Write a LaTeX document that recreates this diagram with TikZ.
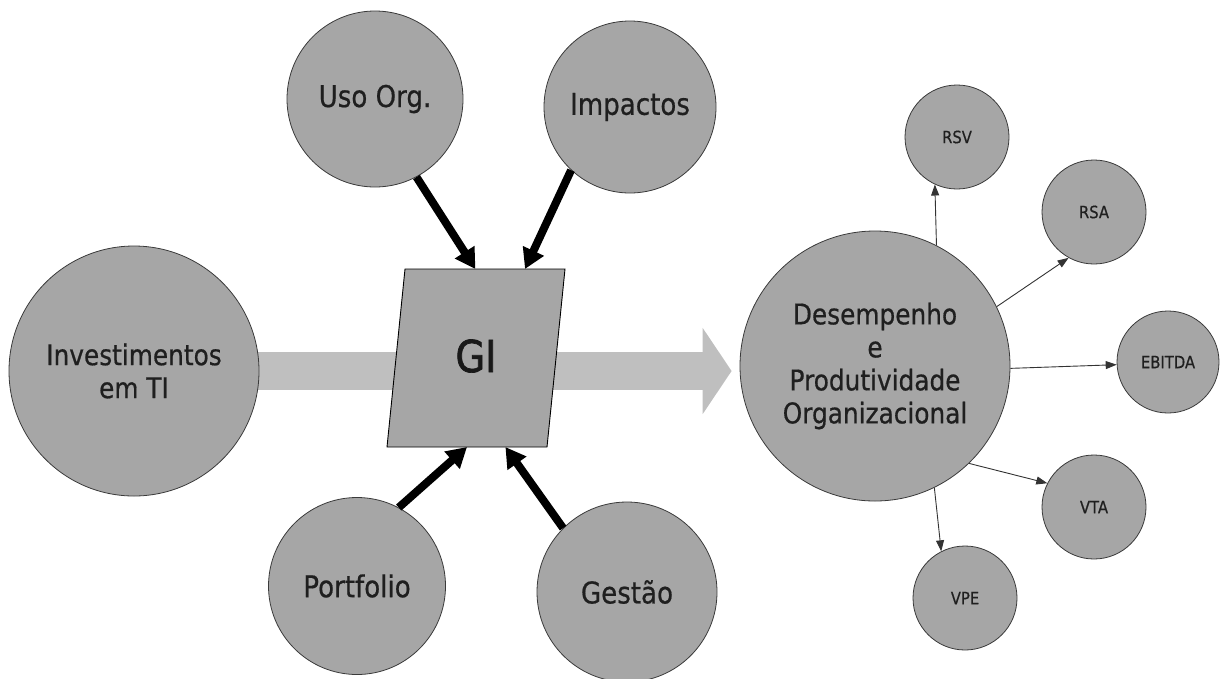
\documentclass[tikz,border=0pt]{standalone}
\usepackage{fontspec}
\setmainfont{DejaVu Sans}[FakeStretch=0.87, FakeBold=0.6]
\newfontfamily\heavyfont{DejaVu Sans}[FakeStretch=0.87, FakeBold=1.6]
\usetikzlibrary{arrows.meta,calc}
\pgfdeclarelayer{background}
\pgfsetlayers{background,main}
\definecolor{bubble}{HTML}{A6A6A6}
\definecolor{flow}{HTML}{BFBFBF}
\definecolor{rim}{HTML}{3A3A3A}

\begin{document}
\begin{tikzpicture}[x=1pt,y=-1pt,
  bubble/.style={circle, fill=bubble, draw=rim, line width=0.8pt,
    inner sep=0pt, align=center, text=black!88},
  hub/.style={bubble, font=\fontsize{28.5}{33}\selectfont},
  sat/.style={bubble, font=\fontsize{30}{34}\selectfont},
  kpi/.style={bubble, minimum size=104pt, font=\fontsize{17}{20}\selectfont},
  feed/.style={line width=8pt, -{Triangle[length=20pt,width=22pt]}},
  link/.style={line width=0.9pt, draw=black!80, -{Triangle[length=11pt,width=8pt]}},
  flowarrow/.style={draw=flow, line width=38pt,
    -{Triangle[length=29pt,width=85pt]}, shorten >=8pt}
]
\useasboundingbox (0,0) rectangle (1222,678);

% source and outcome hubs
\node[hub, minimum size=250pt] (inv) at (134,371) {Investimentos\\em TI};
\node[hub, minimum size=270pt] (des) at (875,366)
  {Desempenho\\e\\Produtividade\\Organizacional};

% wide flow from investment through GI to performance
\begin{pgfonlayer}{background}
  \draw[flowarrow] (inv.center) -- (inv.center -| des.west);
\end{pgfonlayer}

% GI parallelogram
\coordinate (gi-tl) at (405,269);
\coordinate (gi-tr) at (565,269);
\coordinate (gi-br) at (547,447);
\coordinate (gi-bl) at (387,447);
\draw[fill=bubble, draw=black, line width=0.9pt]
  (gi-tl) -- (gi-tr) -- (gi-br) -- (gi-bl) -- cycle;
\node[font=\heavyfont\fontsize{44}{48}\selectfont, text=black!90] (gi) at (476,356) {GI};

% factors acting on GI
\node[sat, minimum size=176pt] (uso)  at (375,99)  {Uso Org.};
\node[sat, minimum size=172pt] (imp)  at (630,107) {Impactos};
\node[sat, minimum size=177pt] (port) at (357,586) {Portfolio};
\node[sat, minimum size=180pt] (gest) at (627,592) {Gestão};

\draw[feed] (uso.-62)  -- ($(gi-tl)!0.44!(gi-tr)$);
\draw[feed] (imp.-133) -- ($(gi-tl)!0.75!(gi-tr)$);
\draw[feed] (port.62)  -- ($(gi-bl)!0.50!(gi-br)$);
\draw[feed] (gest.135) -- ($(gi-bl)!0.74!(gi-br)$);

% performance indicators
\node[kpi] (rsv)  at (957,137)  {RSV};
\node[kpi] (rsa)  at (1094,212) {RSA};
\node[kpi, minimum size=102pt] (ebit) at (1168,362) {EBITDA};
\node[kpi] (vta)  at (1094,507) {VTA};
\node[kpi] (vpe)  at (965,598)  {VPE};

\draw[link] (des.63.6) -- (rsv.245);
\draw[link] (des.26)   -- (rsa.241);
\draw[link] (des.-1)   -- (ebit.183);
\draw[link] (des.-46)  -- (vta.153);
\draw[link] (des.-64)  -- (vpe.117);
\end{tikzpicture}
\end{document}
